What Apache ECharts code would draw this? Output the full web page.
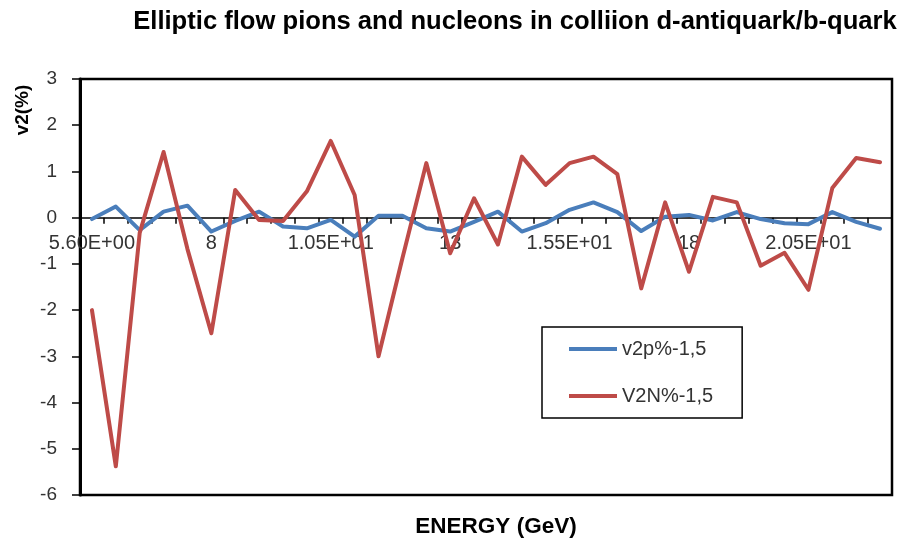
<!DOCTYPE html>
<html>
<head>
<meta charset="utf-8">
<script src="https://cdn.jsdelivr.net/npm/echarts@6/dist/echarts.min.js"></script>
<style>
html,body{margin:0;padding:0;background:#fff;}
#chart{width:901px;height:540px;}
</style>
</head>
<body>
<div id="chart"></div>
<script>
// Energy categories (GeV), labels as shown on the axis
var categories = ['5.60E+00','6','6.5','7','7.5','8','8.5','9','9.5','10',
  '1.05E+01','11','11.5','12','12.5','13','13.5','14','14.5','15',
  '1.55E+01','16','16.5','17','17.5','18','18.5','19','19.5','20',
  '2.05E+01','21','21.5','22'];

// v2p%-1,5 (pions)
var v2p = [-0.03, 0.24, -0.27, 0.13, 0.26, -0.30, -0.07, 0.13, -0.19, -0.23,
  -0.05, -0.41, 0.04, 0.04, -0.23, -0.30, -0.09, 0.13, -0.30, -0.12,
  0.17, 0.33, 0.12, -0.29, 0.02, 0.06, -0.06, 0.12, -0.03, -0.12,
  -0.14, 0.12, -0.09, -0.24];

// V2N%-1,5 (nucleons)
var v2n = [-2.00, -5.38, -0.33, 1.42, -0.68, -2.50, 0.60, -0.05, -0.07, 0.57,
  1.66, 0.49, -3.00, -0.88, 1.18, -0.77, 0.42, -0.58, 1.32, 0.71,
  1.18, 1.32, 0.94, -1.53, 0.33, -1.17, 0.45, 0.33, -1.04, -0.76,
  -1.56, 0.64, 1.29, 1.20];

var yTicks = {min: -6, max: 3, interval: 1};

var chart = echarts.init(document.getElementById('chart'), null, {renderer: 'canvas'});
var FONT = '"Liberation Sans", Arial, sans-serif';
var labelColor = '#333';

var gridTop = 79, gridBottom = 45, H = 540;
var plotH = H - gridTop - gridBottom;
var zeroOffset = -(plotH * (0 - yTicks.min) / (yTicks.max - yTicks.min));

chart.setOption({
  animation: false,
  backgroundColor: '#fff',
  grid: {
    left: 80, top: gridTop, right: 9, bottom: gridBottom,
    show: true, borderColor: '#000', borderWidth: 2.5,
    containLabel: false, outerBoundsMode: 'none'
  },
  legend: {
    orient: 'vertical',
    left: 542, top: 327,
    padding: [12, 29, 12, 27],
    itemWidth: 48, itemHeight: 4, itemGap: 27,
    borderColor: '#000', borderWidth: 1.5,
    icon: 'rect',
    textStyle: {fontFamily: FONT, fontSize: 20, color: labelColor, lineHeight: 20},
    data: ['v2p%-1,5', 'V2N%-1,5']
  },
  xAxis: {
    type: 'category',
    data: categories,
    boundaryGap: true,
    offset: zeroOffset,
    axisLine: {onZero: false, lineStyle: {color: '#000', width: 1.5}},
    axisTick: {show: true, interval: 0, length: 6, inside: false, lineStyle: {color: '#000', width: 1.5}},
    axisLabel: {interval: 4, margin: 16, fontFamily: FONT, fontSize: 20, color: labelColor, hideOverlap: false},
    splitLine: {show: false}
  },
  yAxis: {
    type: 'value',
    min: yTicks.min, max: yTicks.max, interval: yTicks.interval,
    axisLine: {show: true, lineStyle: {color: '#000', width: 3}},
    axisTick: {show: true, length: 8, inside: false, lineStyle: {color: '#000', width: 1.5}},
    axisLabel: {margin: 23, fontFamily: FONT, fontSize: 19, color: labelColor},
    splitLine: {show: false}
  },
  graphic: [
    {type: 'text', x: 515, y: 22, style: {text: 'Elliptic flow pions and nucleons in colliion d-antiquark/b-quark',
      font: 'bold 25.6px ' + FONT, fill: '#000', align: 'center', verticalAlign: 'middle'}},
    {type: 'text', x: 496, y: 527, style: {text: 'ENERGY (GeV)',
      font: 'bold 22.5px ' + FONT, fill: '#000', align: 'center', verticalAlign: 'middle'}},
    {type: 'text', x: 23, y: 110, rotation: Math.PI / 2, style: {text: 'v2(%)',
      font: 'bold 19px ' + FONT, fill: '#000', align: 'center', verticalAlign: 'middle'}}
  ],
  series: [
    {name: 'v2p%-1,5', type: 'line', data: v2p, showSymbol: false, color: '#4a7ebb',
      lineStyle: {color: '#4a7ebb', width: 4, join: 'round', cap: 'round'}},
    {name: 'V2N%-1,5', type: 'line', data: v2n, showSymbol: false, color: '#be4b48',
      lineStyle: {color: '#be4b48', width: 4, join: 'round', cap: 'round'}}
  ]
});
</script>
</body>
</html>
